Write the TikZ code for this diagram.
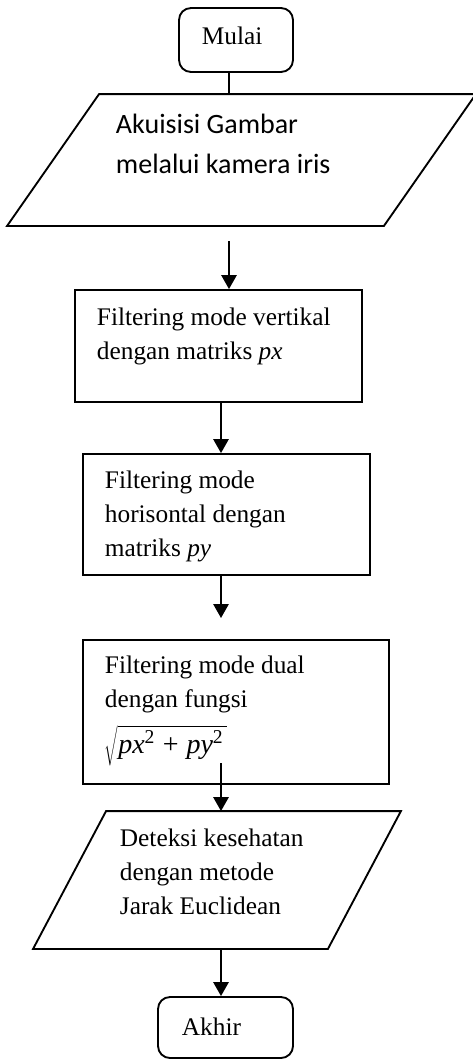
\documentclass[tikz,border=0pt]{standalone}
\usepackage{fontspec}
\setmainfont{Liberation Serif}
\newfontfamily\calibrilike{Carlito}
\usetikzlibrary{arrows.meta,fit}
% several left-aligned lines whose baseline is that of the first line
\newcommand\flowlines[1]{\begin{tabular}[t]{@{}l@{}}#1\end{tabular}}

\begin{document}
\begin{tikzpicture}[x=0.75pt,y=-0.75pt,
  line width=1.4pt,
  box/.style={draw, inner sep=0pt},
  term/.style={draw, rounded corners=9pt, inner sep=0pt},
  frame/.style={inner sep=0pt},
  txt/.style={anchor=base west, inner sep=0pt, font=\fontsize{19pt}{25.5pt}\selectfont},
  sanstxt/.style={anchor=base west, inner sep=0pt, font=\calibrilike\fontsize{21pt}{30pt}\selectfont},
  flow/.style={-{Triangle[length=10.5pt,width=11.5pt]}},
]
\useasboundingbox (0,0) rectangle (473,1060);

% terminals and process boxes
\node[term, fit={(179,8) (293,72)}] (start) {};
\node[box, fit={(75,290) (362,402)}] (b1) {};
\node[box, fit={(83,454) (370,575)}] (b2) {};
\node[box, fit={(83,640) (389,784)}] (b3) {};
\node[term, fit={(158,997) (293,1058)}] (stop) {};

% input / output parallelograms
\node[frame, fit={(8,95) (475,225)}] (in1) {};
\draw ([xshift=69pt]in1.north west) -- (in1.north east)
  -- ([xshift=-69pt]in1.south east) -- (in1.south west) -- cycle;
\node[frame, fit={(34,812) (400,948)}] (out1) {};
\draw ([xshift=54.75pt]out1.north west) -- (out1.north east)
  -- ([xshift=-54.75pt]out1.south east) -- (out1.south west) -- cycle;

% labels
\node[txt] (tstart) at (201,44) {Mulai};
\node[sanstxt] (tin) at (115,133) {\flowlines{Akuisisi Gambar\\melalui kamera iris}};
\node[txt] (tb1) at (96,325) {\flowlines{Filtering mode vertikal\\dengan matriks \textit{px}}};
\node[txt] (tb2) at (104,488) {\flowlines{Filtering mode\\horisontal dengan\\matriks \textit{py}}};
\node[txt] (tb3) at (104,673) {\flowlines{Filtering mode dual\\dengan fungsi\\[6pt]%
  $\sqrt{\hbox{\fontsize{21pt}{25pt}\selectfont\rule[-6pt]{0pt}{20pt}\textit{px}\textsuperscript{2}\;+\;\textit{py}\textsuperscript{2}}\,}$}};
\node[txt] (tout) at (119,846) {\flowlines{Deteksi kesehatan\\dengan metode\\Jarak Euclidean}};
\node[txt] (tstop) at (181,1035) {Akhir};

% connectors
\coordinate (axisA) at (229,0);
\coordinate (axisB) at (221,0);
\coordinate (from1) at (229,241);
\coordinate (to3) at (221,618);
\coordinate (from4) at (221,763);
\draw (axisA |- start.south) -- (axisA |- in1.north);
\draw[flow] (from1) -- (axisA |- b1.north);
\draw[flow] (axisB |- b1.south) -- (axisB |- b2.north);
\draw[flow] (axisB |- b2.south) -- (to3);
\draw[flow] (from4) -- (axisB |- out1.north);
\draw[flow] (axisB |- out1.south) -- (axisB |- stop.north);
\end{tikzpicture}
\end{document}
